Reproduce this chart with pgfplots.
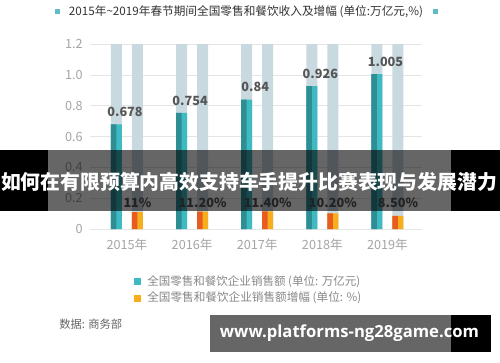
\documentclass[border=0pt]{standalone}
\usepackage{pgfplots}
\pgfplotsset{compat=1.18}
\usepackage{fontspec}
\setmainfont{Noto Sans CJK SC}
\newfontfamily\wmfont{Open Sans}
\definecolor{tealD}{HTML}{2E8E94}
\definecolor{tealL}{HTML}{3EBAC2}
\definecolor{orgD}{HTML}{E85D1F}
\definecolor{orgL}{HTML}{F6AE1C}
\definecolor{bgbar}{HTML}{C9D9E0}
\definecolor{tick}{HTML}{A5A5A5}
\definecolor{lbl}{HTML}{555555}
\definecolor{ttl}{HTML}{333333}
\definecolor{leg}{HTML}{888888}
\definecolor{sq}{HTML}{5DBDC3}
\begin{document}
\begin{tikzpicture}[x=0.75pt,y=0.75pt]
\useasboundingbox (0,0) rectangle (500,362);
\fill[white] (0,0) rectangle (500,362);
\begin{axis}[
  at={(67.5pt,99.75pt)}, anchor=south west, scale only axis,
  width=249pt, height=138.75pt,
  xmin=-0.568, xmax=4.53, ymin=0, ymax=1.2,
  axis line style={draw=none},
  major tick length=0pt,
  ytick={0,0.2,0.4,0.6,0.8,1.0,1.2},
  yticklabels={0,0.2,0.4,0.6,0.8,1.0,1.2},
  ymajorgrids, grid style={draw=black!10},
  xtick={0,1,2,3,4},
  xticklabels={2015年,2016年,2017年,2018年,2019年},
  tick label style={font=\fontsize{9.5}{11}\selectfont, text=tick},
  yticklabel style={xshift=-2pt},
  xticklabel style={yshift=-4pt},
  /pgf/number format/assume math mode=true,
  clip=false,
]
% background bars
\addplot[ybar, bar width=8.25pt, bar shift=-7.875pt, fill=bgbar, draw=none]
  coordinates {(0,1.2)(1,1.2)(2,1.2)(3,1.2)(4,1.2)};
\addplot[ybar, bar width=8.25pt, bar shift=7.875pt, fill=bgbar, draw=none]
  coordinates {(0,1.2)(1,1.2)(2,1.2)(3,1.2)(4,1.2)};
% sales (trillion yuan)
\addplot[ybar, bar width=8.25pt, bar shift=-7.875pt, fill=tealL, draw=none,
  point meta=explicit symbolic, nodes near coords,
  nodes near coords style={font=\bfseries\fontsize{9.5}{11}\selectfont, text=lbl, anchor=south, yshift=2pt, xshift=-1.5pt}]
  coordinates {(0,0.678)[0.678] (1,0.754)[0.754] (2,0.84)[0.84] (3,0.926)[0.926] (4,1.005)[1.005]};
\addplot[ybar, bar width=4.125pt, bar shift=-9.9375pt, fill=tealD, draw=none]
  coordinates {(0,0.678)(1,0.754)(2,0.84)(3,0.926)(4,1.005)};
% growth (%), drawn as fraction
\addplot[ybar, bar width=8.25pt, bar shift=7.875pt, fill=orgL, draw=none]
  coordinates {(0,0.11)(1,0.112)(2,0.114)(3,0.102)(4,0.085)};
\addplot[ybar, bar width=4.125pt, bar shift=5.8125pt, fill=orgD, draw=none]
  coordinates {(0,0.11)(1,0.112)(2,0.114)(3,0.102)(4,0.085)};
\foreach \i/\t in {0/11\%,1/11.20\%,2/11.40\%,3/10.20\%,4/8.50\%}{
  \edef\temp{\noexpand\node[font=\noexpand\bfseries\noexpand\fontsize{9.5}{11}\noexpand\selectfont, text=lbl, xshift=7.875pt] at (axis cs:\i,0.172) {\t};}
  \temp
}
\end{axis}
% title
\fill[sq] (55,348.5) rectangle (60,353.5);
\fill[sq] (433,348.5) rectangle (438,353.5);
\node[text=ttl, inner sep=0] at (246,350.3) {\resizebox{265.5pt}{!}{\fontsize{8.4}{10}\selectfont 2015年\textasciitilde2019年春节期间全国零售和餐饮收入及增幅 (单位:万亿元,\%)}};
% legend
\fill[tealL] (134,76.8) rectangle (141,83.8);
\fill[orgL] (134,60.5) rectangle (141,67.5);
\node[text=leg, anchor=west, inner sep=0] at (147,80.3) {\resizebox{159.75pt}{!}{\fontsize{8.5}{10}\selectfont 全国零售和餐饮企业销售额 (单位: 万亿元)}};
\node[text=leg, anchor=west, inner sep=0] at (147,64) {\resizebox{160.5pt}{!}{\fontsize{8.5}{10}\selectfont 全国零售和餐饮企业销售额增幅 (单位: \%)}};
% source
\node[text=black!60, anchor=west, inner sep=0] at (59,38) {\resizebox{47.25pt}{!}{\fontsize{8.5}{10}\selectfont 数据: 商务部}};
% banner overlay
\fill[black] (0,151) rectangle (48,212);
\fill[black] (451,151) rectangle (500,212);
\fill[black, fill opacity=0.6] (48,151) rectangle (451,212);
\node[text=white, inner sep=0] at (249,180.5) {\resizebox{372pt}{!}{\bfseries\fontsize{16}{18}\selectfont 如何在有限预算内高效支持车手提升比赛表现与发展潜力}};
% watermark overlay
\fill[black, fill opacity=0.6] (210,10) rectangle (451,47);
\fill[black] (451,10) rectangle (491,47);
\node[text=white, inner sep=0] at (349.5,28.5) {\resizebox{194.25pt}{!}{\wmfont\bfseries\fontsize{13}{15}\selectfont www.platforms-ng28game.com}};
\end{tikzpicture}
\end{document}
